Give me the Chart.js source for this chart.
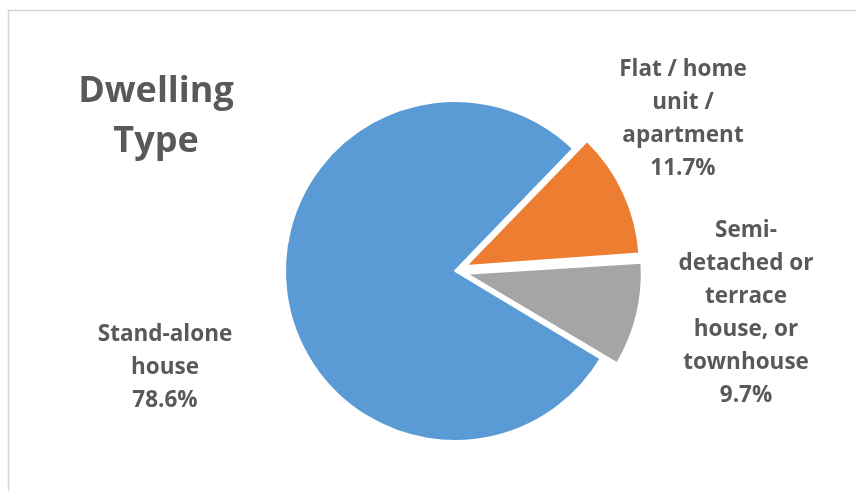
<!DOCTYPE html>
<html>
<head>
<meta charset="utf-8">
<script src="https://cdn.jsdelivr.net/npm/chart.js@4/dist/chart.umd.min.js"></script>
<style>
  html, body { margin: 0; padding: 0; background: #fff; }
  #wrap { width: 856px; height: 491px; }
</style>
</head>
<body>
<div id="wrap"><canvas id="dwellingChart"></canvas></div>
<script>
const categories = [
  ['Stand-alone', 'house'],
  ['Flat / home', 'unit /', 'apartment'],
  ['Semi-', 'detached or', 'terrace', 'house, or', 'townhouse']
];
const shares = [78.6, 11.7, 9.7];
const sliceColors = ['#5b9bd5', '#ed7d31', '#a5a5a5'];
const explode = [0, 48, 48];
const titleLines = ['Dwelling', 'Type'];

// where each label block sits, measured from the pie centre
const labelSpots = [[-290, 95], [228, -154], [291, 40]];
const textColor = '#595959';
const fontFamily = '"Open Sans", Lato, sans-serif';

const frameAndLabels = {
  id: 'frameAndLabels',
  beforeDraw(chart) {
    const ctx = chart.ctx;
    ctx.save();
    ctx.fillStyle = '#fff';
    ctx.fillRect(0, 0, chart.width, chart.height);
    ctx.strokeStyle = '#d6d6d6';
    ctx.lineWidth = 1.5;
    ctx.beginPath();
    ctx.moveTo(8.5, chart.height);
    ctx.lineTo(8.5, 10.5);
    ctx.lineTo(chart.width, 10.5);
    ctx.stroke();
    ctx.restore();
  },
  afterDraw(chart) {
    const ctx = chart.ctx;
    const arc = chart.getDatasetMeta(0).data[0];
    const cx = arc.x, cy = arc.y;
    ctx.save();
    ctx.fillStyle = textColor;
    ctx.textAlign = 'center';
    ctx.textBaseline = 'alphabetic';

    // chart title, top left
    ctx.font = `bold 36px ${fontFamily}`;
    titleLines.forEach((t, i) => ctx.fillText(t, 156, 102 + i * 50));

    // category + percentage labels
    ctx.font = `bold 22.5px ${fontFamily}`;
    const lh = 33;
    chart.data.labels.forEach((lab, i) => {
      const lines = lab.concat(shares[i].toFixed(1) + '%');
      const x = cx + labelSpots[i][0];
      const mid = cy + labelSpots[i][1];
      const first = mid - (lines.length - 1) * lh / 2 + 8;
      lines.forEach((t, j) => ctx.fillText(t, x, first + j * lh));
    });
    ctx.restore();
  }
};

new Chart(document.getElementById('dwellingChart'), {
  type: 'pie',
  data: {
    labels: categories,
    datasets: [{
      data: shares,
      backgroundColor: sliceColors,
      borderColor: '#fff',
      borderWidth: 2,
      offset: explode
    }]
  },
  options: {
    responsive: true,
    maintainAspectRatio: false,
    animation: false,
    events: [],
    rotation: 121,
    radius: 170,
    layout: { padding: { left: 54, top: 51, right: 0, bottom: 0 } },
    plugins: {
      legend: { display: false },
      title: { display: false },
      tooltip: { enabled: false }
    }
  },
  plugins: [frameAndLabels]
});
</script>
</body>
</html>
